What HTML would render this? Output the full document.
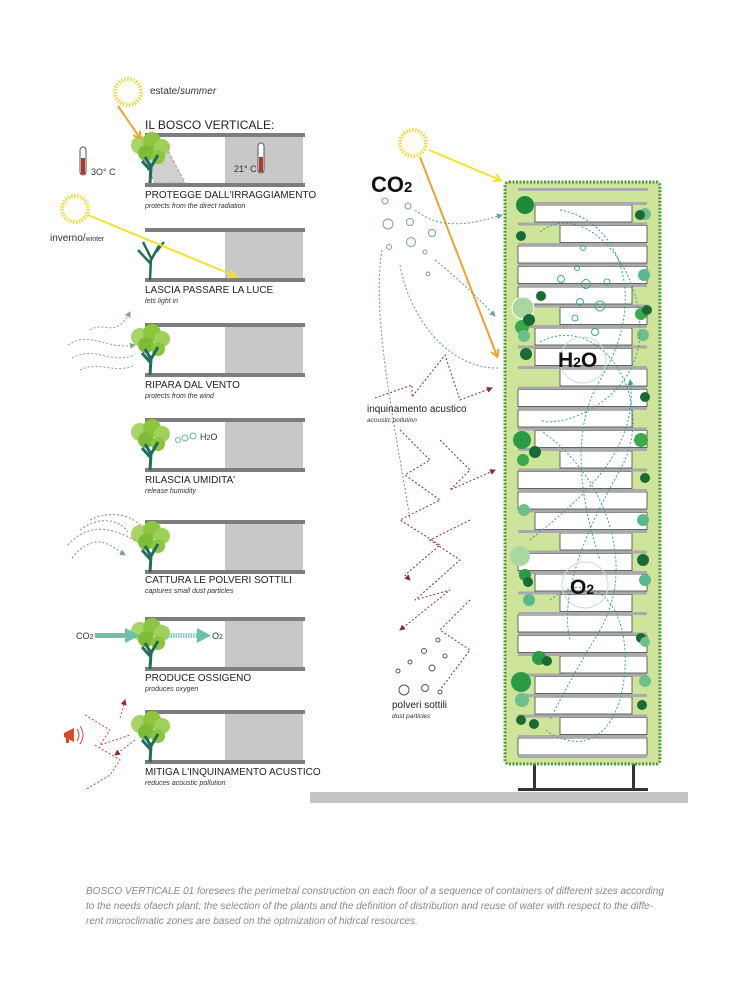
<!DOCTYPE html>
<html><head><meta charset="utf-8"><style>
body{margin:0;background:#fff}
svg{display:block}
text{font-family:"Liberation Sans",sans-serif}
</style></head><body>
<svg width="730" height="1000" viewBox="0 0 730 1000" xmlns="http://www.w3.org/2000/svg">
<defs>
<marker id="ay" markerUnits="userSpaceOnUse" markerWidth="10" markerHeight="10" refX="7" refY="5" orient="auto"><path d="M1,1 L8,5 L1,9" fill="none" stroke="#f2e22a" stroke-width="2"/></marker>
<marker id="ao" markerUnits="userSpaceOnUse" markerWidth="10" markerHeight="10" refX="7" refY="5" orient="auto"><path d="M1,1 L8,5 L1,9" fill="none" stroke="#e8a530" stroke-width="2"/></marker>
<marker id="at" markerUnits="userSpaceOnUse" markerWidth="6" markerHeight="6" refX="5" refY="3" orient="auto"><path d="M0,0 L6,3 L0,6z" fill="#3a9c9c"/></marker>
<marker id="ar" markerUnits="userSpaceOnUse" markerWidth="6" markerHeight="6" refX="5" refY="3" orient="auto"><path d="M0,0 L6,3 L0,6z" fill="#8a2a3a"/></marker>
<marker id="ag" markerUnits="userSpaceOnUse" markerWidth="6" markerHeight="6" refX="5" refY="3" orient="auto"><path d="M0,0 L6,3 L0,6z" fill="#7aa0a0"/></marker>
<g id="panel">
<rect x="225" y="2" width="78" height="50" fill="#c8c8c8"/>
<rect x="145" y="0" width="160" height="4" fill="#7d7d7d"/>
<rect x="145" y="50" width="160" height="4" fill="#7d7d7d"/>
</g>
<g id="tree">
<circle cx="140" cy="14" r="9" fill="#a8d468"/><circle cx="152" cy="10" r="9" fill="#8cc63f"/><circle cx="162" cy="16" r="8" fill="#9fd05a"/><circle cx="146" cy="22" r="8" fill="#7dbb38"/><circle cx="158" cy="26" r="7" fill="#8cc63f"/>
<path d="M150,52 L151,36 L145,26 M151,36 L158,24 M151,40 L142,30" stroke="#1f6e5a" stroke-width="3" fill="none"/>
</g>
<g id="sun"><circle r="13" fill="none" stroke="#f4d83a" stroke-width="4" stroke-dasharray="1.5 1.5"/></g>
</defs>

<use href="#sun" x="128" y="92"/>
<text x="150" y="94" font-size="10" fill="#333">estate/<tspan font-style="italic">summer</tspan></text>
<text x="145" y="129" font-size="12" fill="#222">IL BOSCO VERTICALE:</text>
<g transform="translate(0,133)"><use href="#panel"/>
<path d="M135,12 L163,8 L185,50 L155,50 Z" fill="#d0d0d0" stroke="#999" stroke-dasharray="3 2"/>
<use href="#tree" y="-2"/></g>
<line x1="118" y1="106" x2="140" y2="138" stroke="#e8a530" stroke-width="2" marker-end="url(#ao)"/>
<rect x="80" y="147" width="6" height="28" rx="3" fill="#fff" stroke="#555"/><rect x="81" y="158" width="4" height="16" fill="#b03a2a"/>
<text x="91" y="175" font-size="9" fill="#333">3O° C</text>
<text x="234" y="172" font-size="9" fill="#333">21° C</text>
<rect x="258" y="143" width="6" height="30" rx="3" fill="#fff" stroke="#555"/><rect x="259" y="157" width="4" height="15" fill="#b03a2a"/>
<text x="145" y="198" font-size="10" fill="#222">PROTEGGE DALL'IRRAGGIAMENTO</text>
<text x="145" y="208" font-size="7" font-style="italic" fill="#333">protects from the direct radiation</text>

<use href="#sun" x="75" y="209"/>
<text x="50" y="241" font-size="10" fill="#333">inverno/<tspan font-size="7">winter</tspan></text>
<g transform="translate(0,228)"><use href="#panel"/>
<path d="M150,52 L151,30 L143,14 M151,32 L160,16 M151,36 L138,22 M156,24 L164,14" stroke="#1f6e5a" stroke-width="2.5" fill="none"/></g>
<line x1="88" y1="215" x2="235" y2="276" stroke="#f2e22a" stroke-width="2" marker-end="url(#ay)"/>
<text x="145" y="293" font-size="10" fill="#222">LASCIA PASSARE LA LUCE</text>
<text x="145" y="303" font-size="7" font-style="italic" fill="#333">lets light in</text>

<g transform="translate(0,323)"><use href="#panel"/><use href="#tree"/></g>
<g fill="none" stroke="#7aa0a0" stroke-width="1" stroke-dasharray="2 2">
<path d="M68,345 C90,330 105,350 135,345" marker-end="url(#ag)"/><path d="M72,358 C95,345 110,365 135,355"/><path d="M80,370 C100,360 115,375 135,365"/><path d="M90,330 C105,320 115,340 130,312" marker-end="url(#ag)"/></g>
<text x="145" y="388" font-size="10" fill="#222">RIPARA DAL VENTO</text>
<text x="145" y="398" font-size="7" font-style="italic" fill="#333">protects from the wind</text>

<g transform="translate(0,418)"><use href="#panel"/><use href="#tree"/></g>
<g fill="none" stroke="#6ab8a8"><circle cx="178" cy="440" r="2.5"/><circle cx="185" cy="438" r="3"/><circle cx="193" cy="436" r="3"/></g>
<text x="200" y="440" font-size="9" fill="#333">H<tspan font-size="7">2</tspan>O</text>
<text x="145" y="483" font-size="10" fill="#222">RILASCIA UMIDITA'</text>
<text x="145" y="493" font-size="7" font-style="italic" fill="#333">release humidity</text>

<g transform="translate(0,520)"><use href="#panel"/><use href="#tree"/></g>
<g fill="none" stroke="#a08070" stroke-width="1" stroke-dasharray="2 2">
<path d="M68,545 C90,520 115,530 135,540"/><path d="M72,558 C95,530 110,545 125,555" marker-end="url(#ag)"/><path d="M80,530 C100,515 120,520 128,532"/><path d="M90,520 C110,510 130,515 140,525"/></g>
<text x="145" y="583" font-size="10" fill="#222">CATTURA LE POLVERI SOTTILI</text>
<text x="145" y="593" font-size="7" font-style="italic" fill="#333">captures small dust particles</text>

<g transform="translate(0,617)"><use href="#panel"/><use href="#tree"/></g>
<text x="76" y="639" font-size="9" fill="#333">CO<tspan font-size="7">2</tspan></text>
<rect x="95" y="633" width="30" height="5" fill="#6cc0a8"/><path d="M125,628 L140,635.5 L125,643z" fill="#6cc0a8"/>
<line x1="168" y1="635.5" x2="197" y2="635.5" stroke="#8ad0c0" stroke-width="5" stroke-dasharray="1.5 1"/><path d="M197,628 L211,635.5 L197,643z" fill="#6cc0a8"/>
<text x="212" y="639" font-size="9" fill="#333">O<tspan font-size="7">2</tspan></text>
<text x="145" y="681" font-size="10" fill="#222">PRODUCE OSSIGENO</text>
<text x="145" y="691" font-size="7" font-style="italic" fill="#333">produces oxygen</text>

<g transform="translate(0,710)"><use href="#panel"/><use href="#tree"/></g>
<path d="M64,733 L74,728 L74,742 L64,737z" fill="#d84a30"/><rect x="66" y="737" width="3" height="6" fill="#d84a30"/>
<g fill="none" stroke="#d84a30" stroke-width="1"><path d="M77,729 Q81,735 77,741"/><path d="M80,726 Q86,735 80,744"/></g>
<g fill="none" stroke="#c84a30" stroke-width="1" stroke-dasharray="2 2">
<path d="M85,715 L110,730 L100,745 L130,735" /><path d="M95,745 L120,760 L110,775 L85,790"/><path d="M120,718 L125,700" marker-end="url(#ar)"/><path d="M135,740 L115,755" marker-end="url(#ar)"/></g>
<text x="145" y="775" font-size="10" fill="#222">MITIGA L'INQUINAMENTO ACUSTICO</text>
<text x="145" y="785" font-size="7" font-style="italic" fill="#333">reduces acoustic pollution</text>

<rect x="310" y="792" width="378" height="11" fill="#c4c4c4"/>
<rect x="533" y="755" width="3" height="35" fill="#333"/><rect x="632" y="755" width="3" height="35" fill="#333"/>
<rect x="518" y="788" width="130" height="3" fill="#333"/>
<rect x="505" y="182" width="155" height="582" rx="4" fill="#cde49a" stroke="#4e9a3a" stroke-width="3" stroke-dasharray="2 1.5"/>
<rect x="518" y="188" width="130" height="3" fill="#aaa"/>
<g fill="#fff" stroke="#444" stroke-width="0.8">
<rect x="535" y="205" width="97" height="17"/><rect x="560" y="225.5" width="87" height="17"/><rect x="518" y="246" width="129" height="17"/><rect x="518" y="266.5" width="129" height="17"/><rect x="518" y="287" width="114" height="17"/><rect x="560" y="307.5" width="87" height="17"/><rect x="535" y="328" width="97" height="17"/><rect x="535" y="348.5" width="97" height="17"/><rect x="560" y="369" width="87" height="17"/><rect x="518" y="389.5" width="129" height="17"/><rect x="518" y="410" width="114" height="17"/><rect x="535" y="430.5" width="112" height="17"/><rect x="560" y="451" width="72" height="17"/><rect x="518" y="471.5" width="114" height="17"/><rect x="518" y="492" width="129" height="17"/><rect x="535" y="512.5" width="112" height="17"/><rect x="560" y="533" width="72" height="17"/><rect x="518" y="553.5" width="114" height="17"/><rect x="535" y="574" width="112" height="17"/><rect x="560" y="594.5" width="72" height="17"/><rect x="518" y="615" width="114" height="17"/><rect x="518" y="635.5" width="129" height="17"/><rect x="560" y="656" width="87" height="17"/><rect x="535" y="676.5" width="97" height="17"/><rect x="535" y="697" width="97" height="17"/><rect x="560" y="717.5" width="87" height="17"/><rect x="518" y="738" width="129" height="17"/>
</g>
<g fill="#aaa">
<rect x="518" y="202" width="129" height="3"/><rect x="518" y="222.5" width="129" height="3"/><rect x="518" y="243" width="129" height="3"/><rect x="518" y="263.5" width="129" height="3"/><rect x="518" y="284" width="129" height="3"/><rect x="518" y="304.5" width="129" height="3"/><rect x="518" y="325" width="129" height="3"/><rect x="518" y="345.5" width="129" height="3"/><rect x="518" y="366" width="129" height="3"/><rect x="518" y="386.5" width="129" height="3"/><rect x="518" y="407" width="129" height="3"/><rect x="518" y="427.5" width="129" height="3"/><rect x="518" y="448" width="129" height="3"/><rect x="518" y="468.5" width="129" height="3"/><rect x="518" y="489" width="129" height="3"/><rect x="518" y="509.5" width="129" height="3"/><rect x="518" y="530" width="129" height="3"/><rect x="518" y="550.5" width="129" height="3"/><rect x="518" y="571" width="129" height="3"/><rect x="518" y="591.5" width="129" height="3"/><rect x="518" y="612" width="129" height="3"/><rect x="518" y="632.5" width="129" height="3"/><rect x="518" y="653" width="129" height="3"/><rect x="518" y="673.5" width="129" height="3"/><rect x="518" y="694" width="129" height="3"/><rect x="518" y="714.5" width="129" height="3"/><rect x="518" y="735" width="129" height="3"/><rect x="518" y="755" width="129" height="3"/>
</g>
<g>
<circle cx="525" cy="205" r="9" fill="#1f8a3a"/><circle cx="645" cy="214" r="6" fill="#6ec08a"/><circle cx="640" cy="215" r="5" fill="#1a6a36"/>
<circle cx="521" cy="236" r="5" fill="#1a6a36"/><circle cx="644" cy="275" r="6" fill="#5ab890"/>
<circle cx="523" cy="308" r="11" fill="#a8d8a0" stroke="#fff"/><circle cx="541" cy="296" r="5" fill="#1a6a36"/><circle cx="522" cy="327" r="7" fill="#3aaa4a"/><circle cx="529" cy="320" r="6" fill="#1a6a36"/><circle cx="524" cy="336" r="6" fill="#6ec08a"/>
<circle cx="641" cy="314" r="6" fill="#3aaa4a"/><circle cx="647" cy="310" r="5" fill="#1a6a36"/><circle cx="643" cy="335" r="6" fill="#6ec08a"/>
<circle cx="526" cy="354" r="6" fill="#1a6a36"/><circle cx="645" cy="397" r="5" fill="#1a6a36"/>
<circle cx="522" cy="440" r="9" fill="#2a9a46"/><circle cx="535" cy="452" r="6" fill="#1a6a36"/><circle cx="523" cy="460" r="6" fill="#3aaa4a"/><circle cx="641" cy="440" r="7" fill="#3aaa4a"/><circle cx="645" cy="478" r="5" fill="#1a6a36"/>
<circle cx="524" cy="510" r="6" fill="#6ec08a"/><circle cx="643" cy="520" r="6" fill="#5ab890"/>
<circle cx="520" cy="556" r="10" fill="#a8d8a0"/><circle cx="525" cy="575" r="6" fill="#2a9a46"/><circle cx="528" cy="582" r="5" fill="#1a6a36"/><circle cx="643" cy="560" r="6" fill="#1a6a36"/><circle cx="645" cy="580" r="6" fill="#5ab890"/>
<circle cx="529" cy="600" r="6" fill="#5ab890"/><circle cx="641" cy="638" r="5" fill="#1a6a36"/><circle cx="645" cy="642" r="5" fill="#6ec08a"/>
<circle cx="539" cy="658" r="7" fill="#2a9a46"/><circle cx="547" cy="661" r="5" fill="#1a6a36"/><circle cx="521" cy="682" r="10" fill="#2a9a46"/><circle cx="522" cy="700" r="7" fill="#6ec08a"/><circle cx="645" cy="681" r="6" fill="#6ec08a"/><circle cx="642" cy="705" r="5" fill="#1a6a36"/>
<circle cx="521" cy="720" r="5" fill="#1a6a36"/><circle cx="534" cy="724" r="5" fill="#1a6a36"/>
</g>
<g fill="none" stroke="#3a9c9c" stroke-width="1" stroke-dasharray="2 2">
<path d="M540,232 C580,200 640,260 640,330 C640,400 560,430 540,420"/>
<path d="M560,210 C620,220 650,300 600,380 C570,430 580,500 600,560"/>
<path d="M540,342 C600,310 660,400 620,470 C580,540 560,600 570,640"/>
<path d="M540,430 C600,470 640,560 600,630 C570,680 560,700 550,720"/>
<path d="M550,600 C600,560 640,620 620,700 C600,760 560,740 545,730"/>
<path d="M530,540 C580,500 640,450 630,380" marker-end="url(#at)"/>
</g>
<g fill="none" stroke="#3aaa9a" stroke-width="1"><circle cx="583" cy="248" r="2.5"/><circle cx="577" cy="268" r="2.5"/><circle cx="561" cy="279" r="3.5"/><circle cx="586" cy="284" r="4.5"/><circle cx="607" cy="282" r="3"/><circle cx="580" cy="302" r="3.5"/><circle cx="600" cy="306" r="5"/><circle cx="575" cy="318" r="3"/><circle cx="595" cy="332" r="3.5"/></g>
<circle cx="583" cy="360" r="23" fill="none" stroke="#c8dcd8"/>
<circle cx="585" cy="585" r="23" fill="none" stroke="#c8dcd8"/>
<text x="558" y="367" font-size="21" font-weight="bold" fill="#111">H<tspan font-size="14">2</tspan>O</text>
<text x="570" y="594" font-size="21" font-weight="bold" fill="#111">O<tspan font-size="14">2</tspan></text>

<use href="#sun" x="413" y="143"/>
<line x1="429" y1="150" x2="500" y2="180" stroke="#f2e22a" stroke-width="2" marker-end="url(#ay)"/>
<line x1="420" y1="157" x2="497" y2="356" stroke="#e8a530" stroke-width="2" marker-end="url(#ao)"/>
<text x="371" y="192" font-size="22" font-weight="bold" fill="#111">CO<tspan font-size="15">2</tspan></text>
<g fill="none" stroke="#7aa0a0"><circle cx="385" cy="201" r="3"/><circle cx="408" cy="206" r="3"/><circle cx="388" cy="224" r="5"/><circle cx="410" cy="222" r="3.5"/><circle cx="432" cy="233" r="3.5"/><circle cx="411" cy="242" r="4.5"/><circle cx="389" cy="247" r="2.5"/><circle cx="425" cy="252" r="2"/><circle cx="428" cy="274" r="2"/></g>
<g fill="none" stroke="#5a9a9a" stroke-width="1" stroke-dasharray="2 2">
<path d="M415,210 C440,230 470,225 502,215" marker-end="url(#ag)"/>
<path d="M435,260 C460,280 480,300 495,316" marker-end="url(#ag)"/>
<path d="M400,265 C410,320 450,370 500,368"/>
<path d="M382,250 C370,320 400,450 410,520"/>
</g>
<g fill="none" stroke="#8a2a3a" stroke-width="1" stroke-dasharray="2 2">
<path d="M375,398 L412,385 L412,397 L445,355 L460,400 L492,388" marker-end="url(#ar)"/>
<path d="M400,430 L430,460 L405,475 L440,500 L400,520 L440,545 L405,575 L410,580" marker-end="url(#ar)"/>
<path d="M440,440 L470,470 L450,490 L495,470" marker-end="url(#ar)"/>
<path d="M470,520 L430,540 L460,560 L415,600 L450,590 L400,630" marker-end="url(#ar)"/>
<path d="M470,600 L440,630 L470,650 L440,690"/>
</g>
<text x="367" y="412" font-size="10" fill="#222">inquinamento acustico</text>
<text x="367" y="422" font-size="6.5" font-style="italic" fill="#333">acoustic pollution</text>
<g fill="none" stroke="#555"><circle cx="438" cy="640" r="2"/><circle cx="424" cy="651" r="2.5"/><circle cx="445" cy="656" r="2"/><circle cx="410" cy="662" r="2"/><circle cx="432" cy="668" r="3"/><circle cx="404" cy="690" r="5"/><circle cx="425" cy="688" r="3.5"/><circle cx="440" cy="692" r="2"/><circle cx="398" cy="671" r="2"/></g>
<text x="392" y="708" font-size="10" fill="#222">polveri sottili</text>
<text x="392" y="718" font-size="6.5" font-style="italic" fill="#333">dust particles</text>

<g font-size="10" font-style="italic" fill="#888">
<text x="86" y="894">BOSCO VERTICALE 01 foresees the perimetral construction on each floor of a sequence of containers of different sizes according</text>
<text x="86" y="909">to the needs ofaech plant;  the selection of the plants and the definition of distribution and reuse of water with respect to the diffe-</text>
<text x="86" y="924">rent microclimatic zones are based on the optmization of hidrcal resources.</text>
</g>
</svg>
</body></html>
